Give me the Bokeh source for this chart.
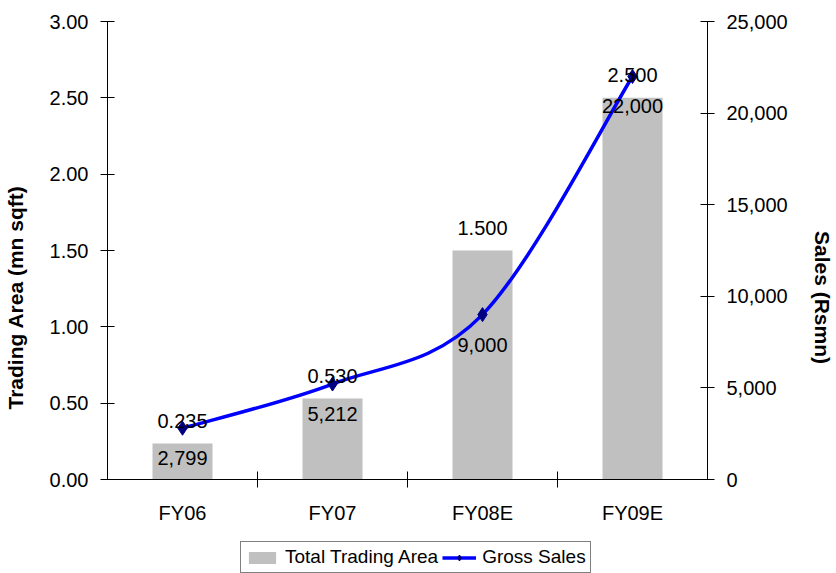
import math
from bokeh.plotting import figure
from bokeh.models import (Range1d, LinearAxis, FixedTicker, Legend, LegendItem,
                          NumeralTickFormatter, Span)
from bokeh.core.properties import value
from bokeh.embed import file_html
from bokeh.resources import INLINE

# Chart values
years = ["FY06", "FY07", "FY08E", "FY09E"]
trading_area = [0.235, 0.530, 1.500, 2.500]       # mn sqft (left axis)
gross_sales = [2799, 5212, 9000, 22000]           # Rs mn (right axis)
area_labels = ["0.235", "0.530", "1.500", "2.500"]
sales_labels = ["2,799", "5,212", "9,000", "22,000"]

FONT = value("Liberation Sans")
x = [i + 0.5 for i in range(len(years))]
boundaries = list(range(1, len(years)))

# Layout: the value area is 458 px tall; 94 px below it hold the category
# labels and the legend, drawn inside the frame below the zero line.
AREA_H, FOOT_H = 458, 94
AREA_MAX, SALES_MAX = 3.0, 25000
foot = FOOT_H / AREA_H

p = figure(width=836, height=573, output_backend="svg", toolbar_location=None,
           x_axis_location=None,
           x_range=Range1d(0, len(years)),
           y_range=Range1d(-AREA_MAX * foot, AREA_MAX),
           min_border_left=100, min_border_right=118,
           min_border_top=21, min_border_bottom=0)
p.extra_y_ranges = {"sales": Range1d(-SALES_MAX * foot, SALES_MAX)}
p.grid.visible = False
p.outline_line_color = None
p.background_fill_color = "white"
p.border_fill_color = "white"

# Bars: total trading area
bars = p.vbar(x=x, top=trading_area, width=0.4, fill_color="#C0C0C0",
              line_color=None)

# Category axis: zero line, ticks between categories and category names
p.add_layout(Span(location=0, dimension="width", line_color="black", line_width=1))
p.scatter(x=boundaries, y=[0] * len(boundaries), marker="dash", angle=math.pi / 2,
          size=16, line_color="black", line_width=1)
p.text(x=x, y=[0] * len(x), text=years, text_align="center", text_baseline="top",
       y_offset=22, text_font=FONT, text_font_size="20px", text_color="black")

# Smooth sales curve built from cubic Bezier segments through the data points
n = len(gross_sales)
x0, y0, x1, y1, cx0, cy0, cx1, cy1 = ([] for _ in range(8))
for i in range(n - 1):
    xa, ya = x[max(i - 1, 0)], gross_sales[max(i - 1, 0)]
    xb, yb = x[i], gross_sales[i]
    xc, yc = x[i + 1], gross_sales[i + 1]
    xd, yd = x[min(i + 2, n - 1)], gross_sales[min(i + 2, n - 1)]
    x0.append(xb); y0.append(yb); x1.append(xc); y1.append(yc)
    cx0.append(xb + (xc - xa) / 6); cy0.append(yb + (yc - ya) / 6)
    cx1.append(xc - (xd - xb) / 6); cy1.append(yc - (yd - yb) / 6)
curve = p.bezier(x0=x0, y0=y0, x1=x1, y1=y1, cx0=cx0, cy0=cy0, cx1=cx1, cy1=cy1,
                 line_color="#0000FF", line_width=3.5, y_range_name="sales")
pts = p.scatter(x=x, y=gross_sales, marker="diamond", size=14,
                fill_color="#000080", line_color="#000080", y_range_name="sales")

# Value labels
p.text(x=x, y=trading_area, text=area_labels, text_align="center",
       text_baseline="bottom", y_offset=-16, text_font=FONT,
       text_font_size="20px", text_color="black")
p.text(x=x, y=gross_sales, text=sales_labels, text_align="center",
       text_baseline="top", y_offset=23, text_font=FONT,
       text_font_size="20px", text_color="black", y_range_name="sales")

# Left axis
yl = p.yaxis[0]
yl.ticker = FixedTicker(ticks=[0, 0.5, 1.0, 1.5, 2.0, 2.5, 3.0])
yl.formatter = NumeralTickFormatter(format="0.00")
yl.axis_label = "Trading Area (mn sqft)"
yl.bounds = (0, AREA_MAX)

# Right axis
yr = LinearAxis(y_range_name="sales", axis_label="Sales (Rsmn)",
                ticker=FixedTicker(ticks=[0, 5000, 10000, 15000, 20000, 25000]),
                formatter=NumeralTickFormatter(format="0,0"),
                bounds=(0, SALES_MAX))
p.add_layout(yr, "right")

for ax in (yl, yr):
    ax.major_tick_in = 7
    ax.major_tick_out = 7
    ax.minor_tick_in = 0
    ax.minor_tick_out = 0
    ax.major_label_standoff = 12
    ax.axis_label_standoff = 20
    ax.axis_line_color = "black"
    ax.major_tick_line_color = "black"
    ax.major_label_text_font = "Liberation Sans"
    ax.major_label_text_font_size = "20px"
    ax.major_label_text_color = "black"
    ax.axis_label_text_font = "Liberation Sans"
    ax.axis_label_text_font_style = "bold"
    ax.axis_label_text_font_size = "21px"
    ax.axis_label_text_color = "black"

legend = Legend(items=[LegendItem(label="Total Trading Area", renderers=[bars]),
                       LegendItem(label="Gross Sales", renderers=[curve, pts])],
                orientation="horizontal", location=(133, 0),
                border_line_color="black", border_line_width=1,
                background_fill_color="white", background_fill_alpha=1,
                label_text_font="Liberation Sans", label_text_font_size="19px",
                label_text_color="black",
                glyph_width=34, glyph_height=15, label_standoff=6,
                spacing=4, padding=4, margin=0)
p.add_layout(legend, "center")

open("out.html", "w").write(file_html(p, INLINE))
